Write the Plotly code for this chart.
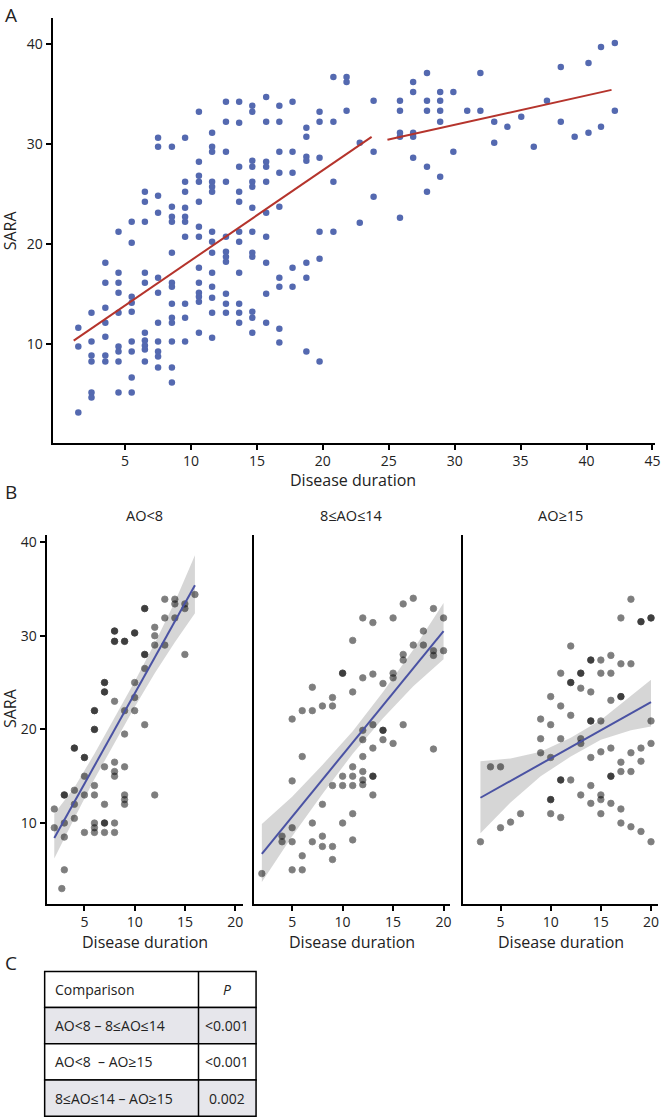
import plotly.graph_objects as go

# ---------------- Panel A data (disease duration vs SARA) ----------------
a_dur = (
    [1.45]*3 + [2.45]*6 + [3.5]*7 + [4.5]*9 + [5.5]*9 + [6.5]*10 + [7.5]*11 +
    [8.55]*13 + [9.55]*10 + [10.6]*13 + [11.6]*14 + [12.65]*11 + [13.65]*11 +
    [14.65]*13 + [15.7]*10 + [16.7]*9 + [17.7]*5 + [18.75]*7 + [19.75]*6 +
    [20.8]*4 + [21.8]*3 + [22.8]*2 + [23.85]*3 + [25.85]*5 + [26.85]*5 +
    [27.9]*5 + [28.9]*5 + [29.9]*2 + [30.95]*1 + [31.95]*2 + [33.0]*2 +
    [34.0]*1 + [35.05]*1 + [36.0]*1 + [37.0]*1 + [38.05]*2 + [39.1]*1 +
    [40.15]*2 + [41.1]*2 + [42.15]*2
)
a_sara = [
    11.6, 9.7, 3.1,
    13.1, 10.2, 8.8, 8.2, 5.1, 4.6,
    18.1, 16.1, 13.6, 12.1, 10.7, 8.8, 8.2,
    21.2, 17.1, 16.1, 15.1, 13.1, 9.7, 9.2, 8.2, 5.1,
    22.2, 20.1, 14.7, 14.1, 13.2, 10.2, 9.2, 6.6, 5.1,
    25.2, 24.2, 22.2, 17.1, 16.1, 11.1, 10.3, 9.8, 9.4, 8.2,
    30.6, 29.7, 24.8, 23.1, 16.6, 15.1, 12.1, 10.2, 9.2, 8.7, 7.6,
    29.7, 23.7, 22.7, 22.2, 19.1, 16.1, 15.7, 14.0, 12.6, 12.1, 10.2, 7.6, 6.1,
    30.6, 26.2, 25.2, 23.6, 22.7, 22.2, 20.7, 14.0, 12.6, 10.2,
    33.2, 28.2, 26.8, 26.2, 24.2, 21.7, 20.7, 17.6, 16.1, 15.1, 14.7, 14.2, 11.1,
    31.1, 29.7, 29.2, 26.2, 25.7, 25.2, 21.2, 20.2, 19.1, 17.1, 15.7, 14.6, 13.1, 10.6,
    34.2, 32.2, 29.2, 26.2, 20.7, 19.2, 18.7, 18.2, 15.0, 14.0, 13.1,
    34.2, 32.1, 27.7, 25.2, 24.2, 21.2, 20.2, 17.1, 14.0, 13.1, 12.1,
    33.8, 33.2, 28.3, 27.7, 26.2, 25.7, 23.6, 21.2, 19.1, 18.7, 13.2, 12.6, 11.1,
    34.7, 32.2, 28.2, 27.7, 26.2, 23.1, 20.7, 18.1, 15.0, 12.1,
    33.8, 32.2, 29.2, 27.1, 23.7, 16.6, 15.7, 11.5, 10.1,
    34.2, 29.2, 27.1, 17.6, 15.7,
    31.6, 30.7, 28.7, 28.3, 18.1, 16.6, 9.2,
    33.2, 32.2, 28.6, 21.2, 18.5, 8.2,
    36.7, 32.2, 26.2, 21.2,
    36.7, 36.2, 33.3,
    30.1, 22.1,
    34.3, 29.2, 24.7,
    34.3, 33.3, 31.1, 30.7, 22.6,
    36.2, 35.2, 31.1, 30.7, 28.6,
    37.1, 34.3, 33.3, 27.7, 25.2,
    35.2, 34.3, 33.3, 32.2, 26.7,
    35.2, 29.2,
    33.3,
    37.1, 33.3,
    32.2, 30.1,
    31.7,
    32.7,
    29.7,
    34.3,
    37.7, 32.2,
    30.7,
    38.1, 31.1,
    39.7, 31.7,
    40.1, 33.3,
]
# segmented fit lines
a_fit1_x = [1.1, 23.7]
a_fit1_y = [10.3, 30.7]
a_fit2_x = [24.9, 41.9]
a_fit2_y = [30.4, 35.4]

# ---------------- Panel B data ----------------
b_titles = ["AO<8", "8≤AO≤14", "AO≥15"]

b1_dur = ([2, 2, 2.75] + [3]*5 + [4]*5 + [5]*5 + [6]*9 + [7]*9 + [8]*10 +
          [9]*8 + [10]*5 + [11]*6 + [12]*4 + [13]*3 + [14]*3 + [15]*3 + [16])
b1_sara = [11.5, 9.5, 3.0,
           13.0, 13.0, 10.0, 8.5, 5.0,
           18.0, 18.0, 13.5, 12.0, 10.5,
           17.0, 17.0, 15.0, 13.0, 9.0,
           22.0, 22.0, 20.0, 20.0, 14.0, 13.0, 10.0, 9.5, 9.0,
           25.0, 25.0, 24.0, 24.0, 16.0, 12.0, 10.0, 10.0, 9.0,
           30.5, 30.5, 29.4, 29.4, 23.0, 16.5, 15.5, 15.0, 10.0, 9.0,
           29.4, 29.4, 22.0, 19.5, 16.0, 13.0, 12.5, 12.0,
           30.3, 30.3, 25.0, 23.4, 22.0,
           32.9, 32.9, 28.0, 28.0, 26.5, 20.5,
           30.9, 30.0, 29.0, 13.0,
           33.9, 31.9, 29.0,
           33.9, 33.4, 31.9,
           33.4, 32.9, 28.0,
           34.4]

b2_dur = [17, 16, 19, 12, 13, 15, 20, 11, 18, 17, 18, 19, 19, 20, 16, 16,
          10, 10, 12, 13, 15, 15, 14, 7, 9, 11,
          9, 8, 6, 7, 5, 12, 12, 13, 14, 14, 14, 16, 15, 13, 19, 6, 12, 11,
          10, 11, 12, 12, 12, 13, 13, 9, 10, 11, 5, 13, 8, 11, 7, 10, 5,
          4, 4, 5, 7, 8, 8, 9, 11, 6, 9, 5, 6, 2]
b2_sara = [34.0, 33.4, 32.9, 31.9, 31.4, 31.9, 31.9, 29.5, 30.5, 29.0, 29.0, 28.4, 27.9, 28.4, 28.0, 27.4,
           26.0, 26.0, 25.5, 25.9, 26.0, 25.5, 24.9, 24.5, 23.4, 24.0,
           22.5, 22.5, 22.0, 22.0, 21.1, 19.9, 18.9, 20.5, 19.9, 19.9, 18.9, 20.5, 18.5, 18.0, 17.9, 17.1, 17.1, 16.0,
           15.0, 15.0, 15.5, 14.6, 14.1, 15.0, 15.0, 14.0, 14.0, 14.0, 14.5, 13.0, 12.0, 11.0, 10.0, 10.0, 9.5,
           8.6, 8.0, 8.0, 8.0, 8.6, 7.5, 7.5, 8.2, 6.5, 6.1, 5.0, 5.0, 4.6]

b3_dur = [18, 17, 19, 19, 20, 20, 12, 14, 14, 15, 16, 17, 18, 11, 13, 13, 15, 16, 12, 12, 13, 14, 10, 16, 17, 17,
          11, 12, 9, 10, 14, 14, 15, 20, 9, 11, 13, 13, 9, 10, 14, 15, 16, 17, 18, 19, 19, 20,
          17, 18, 16, 16, 4, 5, 11, 11, 12, 14, 13, 15, 15, 10, 10, 14, 16, 17, 7, 6, 5,
          10, 11, 15, 17, 18, 19, 3, 20]
b3_sara = [33.9, 31.9, 31.5, 31.5, 31.9, 31.9, 28.9, 27.4, 27.4, 27.4, 27.9, 27.0, 27.0, 26.0, 26.0, 26.0, 26.0, 26.0,
           25.0, 25.0, 24.4, 24.0, 23.5, 23.1, 23.5, 23.5,
           22.5, 21.5, 21.1, 20.5, 20.9, 20.9, 20.9, 20.9, 19.0, 19.0, 19.0, 18.5, 17.5, 17.0, 17.0, 17.6, 18.0, 16.5,
           17.5, 18.0, 16.6, 18.5,
           15.5, 15.5, 15.0, 15.0, 16.0, 16.0, 14.6, 14.6, 14.6, 14.0, 13.0, 13.0, 12.5, 12.5, 12.5, 12.1, 12.1, 11.5,
           11.0, 10.1, 9.5,
           11.0, 10.6, 11.0, 10.0, 9.6, 9.1, 8.0, 8.0]

# fitted lines and confidence bands
b_band_x = [[2, 4, 6, 8, 10, 12, 14, 16],
            [2, 5, 8, 11, 14, 17, 20],
            [3, 6, 9, 12, 15, 18, 20]]
b_band_lo = [[6.2, 10.5, 14.7, 18.6, 22.4, 26.0, 29.3, 32.4],
             [3.7, 8.6, 13.1, 17.4, 21.2, 24.6, 27.5],
             [8.9, 12.2, 15.0, 17.1, 18.9, 19.9, 20.3]]
b_band_hi = [[11.0, 13.8, 17.4, 21.3, 25.1, 29.2, 33.6, 38.6],
             [9.9, 12.8, 16.2, 19.8, 24.0, 28.5, 33.5],
             [16.6, 16.9, 17.6, 19.1, 21.0, 23.6, 25.3]]
b_fit_x = [[2, 16], [2, 20], [3, 20]]
b_fit_y = [[8.4, 35.4], [6.7, 30.5], [12.7, 22.9]]

# ---------------- Panel C table ----------------
c_header = ["Comparison", "<i>P</i>"]
c_comparisons = ["AO<8 – 8≤AO≤14", "AO<8  – AO≥15", "8≤AO≤14 – AO≥15"]
c_pvalues = ["<0.001", "<0.001", "0.002"]

# ---------------- Figure ----------------
W, H = 667, 1118
FONT = "Open Sans"
TXT = "#222222"
BLUE = "#5469b0"
RED = "#b5342c"
LINEB = "#4a52a3"


def px_x(p):
    return p / W


def px_y(p):
    return 1 - p / H


fig = go.Figure()

# Panel A
fig.add_trace(go.Scatter(x=a_dur, y=a_sara, mode="markers",
                         marker=dict(color=BLUE, size=6.5, line=dict(width=0)),
                         xaxis="x", yaxis="y", showlegend=False, hoverinfo="skip"))
for fx, fy in ((a_fit1_x, a_fit1_y), (a_fit2_x, a_fit2_y)):
    fig.add_trace(go.Scatter(x=fx, y=fy, mode="lines",
                             line=dict(color=RED, width=2),
                             xaxis="x", yaxis="y", showlegend=False, hoverinfo="skip"))

# Panel B
b_durs = [b1_dur, b2_dur, b3_dur]
b_saras = [b1_sara, b2_sara, b3_sara]
axn = ["2", "3", "4"]
for i in range(3):
    xa, ya = "x" + axn[i], "y" + axn[i]
    bx = b_band_x[i]
    fig.add_trace(go.Scatter(x=bx + bx[::-1], y=b_band_hi[i] + b_band_lo[i][::-1],
                             mode="lines", fill="toself", line=dict(width=0),
                             fillcolor="rgba(165,165,165,0.45)",
                             xaxis=xa, yaxis=ya, showlegend=False, hoverinfo="skip"))
    fig.add_trace(go.Scatter(x=b_durs[i], y=b_saras[i], mode="markers",
                             marker=dict(color="black", size=6.5, opacity=0.5,
                                         line=dict(color="black", width=0.8)),
                             xaxis=xa, yaxis=ya, showlegend=False, hoverinfo="skip"))
    fig.add_trace(go.Scatter(x=b_fit_x[i], y=b_fit_y[i], mode="lines",
                             line=dict(color=LINEB, width=2),
                             xaxis=xa, yaxis=ya, showlegend=False, hoverinfo="skip"))

axis_common = dict(showgrid=False, zeroline=False, showline=True, linecolor="black",
                   linewidth=2, ticks="outside", ticklen=5, tickwidth=1.5, tickcolor="black",
                   tickfont=dict(family=FONT, size=14, color=TXT))

layout = dict(
    width=W, height=H, margin=dict(l=0, r=0, t=0, b=0),
    paper_bgcolor="white", plot_bgcolor="white",
    font=dict(family=FONT, color=TXT),
    xaxis=dict(domain=[px_x(53), px_x(660)], range=[-0.5, 45.2],
               tickvals=[5, 10, 15, 20, 25, 30, 35, 40, 45], anchor="y", **axis_common),
    yaxis=dict(domain=[px_y(440.7), px_y(15)], range=[0.1, 42.6],
               tickvals=[10, 20, 30, 40], anchor="x", **axis_common),
)

b_xdom = [(47, 245), (256, 453), (467, 663)]
b_xrng = [[1.24, 20.8], [1.23, 20.6], [1.31, 20.7]]
for i in range(3):
    n = axn[i]
    layout["xaxis" + n] = dict(domain=[px_x(b_xdom[i][0]), px_x(b_xdom[i][1])],
                               range=b_xrng[i], tickvals=[5, 10, 15, 20],
                               anchor="y" + n, **axis_common)
    yd = dict(domain=[px_y(903), px_y(533)], range=[1.4, 40.8],
              anchor="x" + n, **axis_common)
    if i == 0:
        yd["tickvals"] = [10, 20, 30, 40]
    else:
        yd["showticklabels"] = False
        yd["ticks"] = ""
    layout["yaxis" + n] = yd

fig.update_layout(**layout)

ann = []
shapes = []


def add_text(text, xp, yp, size, angle=0, xanchor="center"):
    ann.append(dict(text=text, x=px_x(xp), y=px_y(yp), xref="paper", yref="paper",
                    showarrow=False, textangle=angle, xanchor=xanchor, yanchor="middle",
                    font=dict(family=FONT, size=size, color=TXT)))


add_text("A", 3, 12, 19, xanchor="left")
add_text("B", 3, 490, 19, xanchor="left")
add_text("C", 3, 963, 19, xanchor="left")
add_text("SARA", 10, 228, 16, angle=-90)
add_text("SARA", 10, 707, 16, angle=-90)
add_text("Disease duration", 356, 478, 16)
b_centers = [146, 354.5, 565]
for i in range(3):
    add_text(b_titles[i], b_centers[i], 514, 14.5)
    add_text("Disease duration", b_centers[i], 942, 16)

# Panel C table (drawn with shapes + text)
t_left, t_div, t_right = 45, 200, 258
t_top, row_h = 971, 36.3
rows = [c_header] + [[c, p] for c, p in zip(c_comparisons, c_pvalues)]
row_fill = ["white", "#e6e6eb", "white", "#e6e6eb"]
for r, (c1, c2) in enumerate(rows):
    y0 = t_top + r * row_h
    y1 = y0 + row_h
    shapes.append(dict(type="rect", xref="paper", yref="paper",
                       x0=px_x(t_left), x1=px_x(t_right), y0=px_y(y1), y1=px_y(y0),
                       fillcolor=row_fill[r], line=dict(color="black", width=1.5),
                       layer="below"))
    add_text(c1, t_left + 8, (y0 + y1) / 2, 14, xanchor="left")
    add_text(c2, (t_div + t_right) / 2, (y0 + y1) / 2, 14)
shapes.append(dict(type="line", xref="paper", yref="paper",
                   x0=px_x(t_div), x1=px_x(t_div),
                   y0=px_y(t_top + 4 * row_h), y1=px_y(t_top),
                   line=dict(color="black", width=1.5)))

fig.update_layout(annotations=ann, shapes=shapes)
fig.write_html("out.html", config={"displayModeBar": False},
               post_script="document.body.style.margin='0px';")
